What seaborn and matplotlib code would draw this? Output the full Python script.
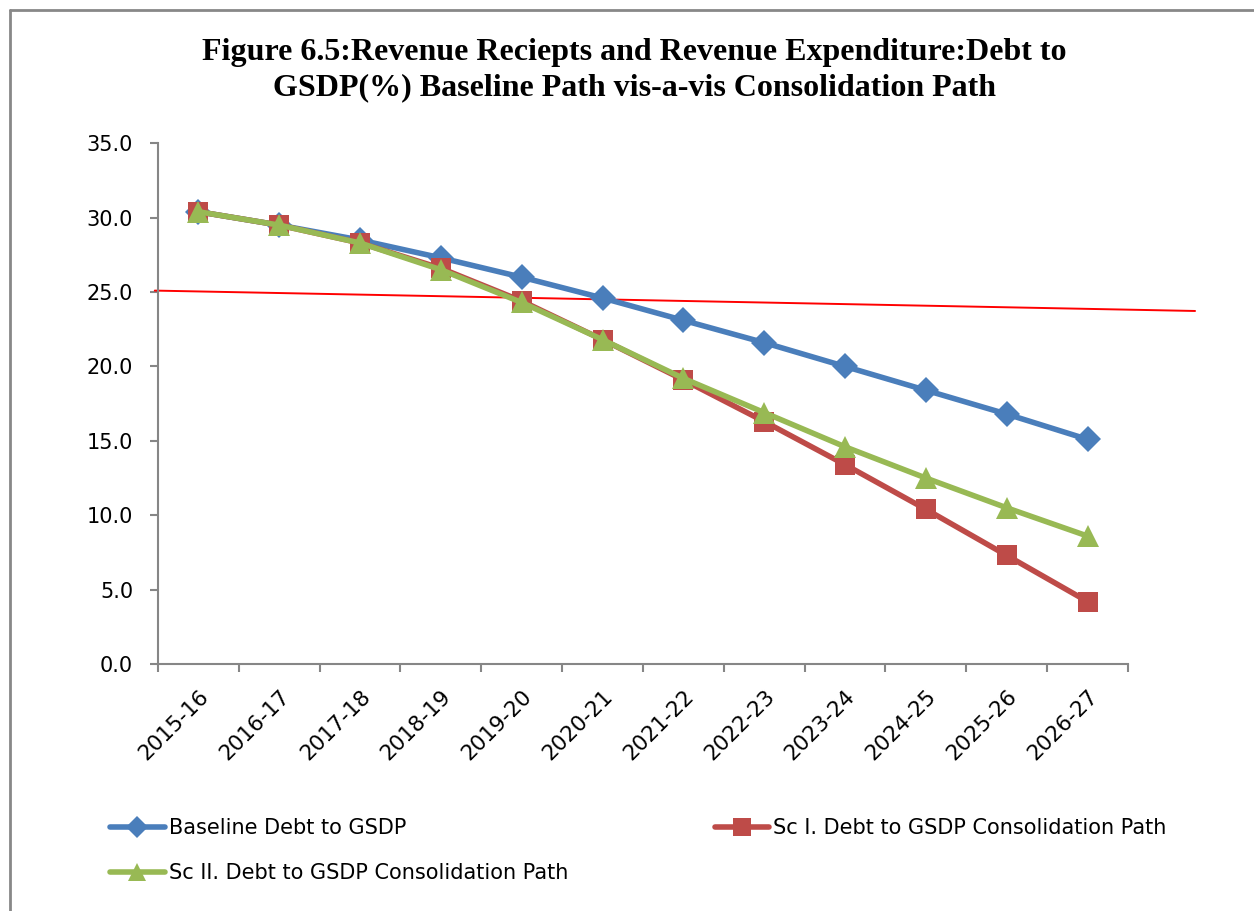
import matplotlib
matplotlib.use("Agg")
import matplotlib.pyplot as plt
from matplotlib.lines import Line2D
import matplotlib.transforms as mtransforms
import seaborn as sns
import pandas as pd

years = ["2015-16", "2016-17", "2017-18", "2018-19", "2019-20", "2020-21",
         "2021-22", "2022-23", "2023-24", "2024-25", "2025-26", "2026-27"]
baseline = [30.4, 29.5, 28.5, 27.3, 26.0, 24.6, 23.1, 21.6, 20.0, 18.4, 16.8, 15.1]
sc1 = [30.4, 29.5, 28.3, 26.6, 24.4, 21.8, 19.1, 16.3, 13.4, 10.4, 7.3, 4.2]
sc2 = [30.4, 29.5, 28.3, 26.5, 24.3, 21.8, 19.2, 16.9, 14.6, 12.5, 10.5, 8.6]
labels = ["Baseline Debt to GSDP",
          "Sc I. Debt to GSDP Consolidation Path",
          "Sc II. Debt to GSDP Consolidation Path"]
# hand-drawn red reference line (category-index x, value y)
ref_x = [-0.54, 12.33]
ref_y = [25.1, 23.73]

title = ("Figure 6.5:Revenue Reciepts and Revenue Expenditure:Debt to\n"
         "GSDP(%) Baseline Path vis-a-vis Consolidation Path")

sns.set_theme(style="white")
plt.rcParams["font.family"] = ["DejaVu Sans"]
plt.rcParams["text.color"] = "black"
plt.rcParams["xtick.color"] = "#868686"
plt.rcParams["ytick.color"] = "#868686"
plt.rcParams["xtick.labelcolor"] = "black"
plt.rcParams["ytick.labelcolor"] = "black"

fig = plt.figure(figsize=(12.54, 9.11), dpi=100)
ax = fig.add_axes([0.126, 0.2711, 0.7735, 0.5716])

colors = ["#4A7EBB", "#BE4B48", "#98B954"]
markers = ["D", "s", "^"]
msizes = [13.5, 14.5, 15.5]
series = [baseline, sc1, sc2]
handles = []
for vals, lab, c, m, ms in zip(series, labels, colors, markers, msizes):
    df = pd.DataFrame({"year": years, "value": vals})
    sns.lineplot(data=df, x="year", y="value", ax=ax, color=c, linewidth=4.0,
                 marker=m, markersize=ms, markeredgewidth=0, sort=False,
                 label=lab, legend=False)
    handles.append(Line2D([], [], color=c, linewidth=4.0, marker=m,
                          markersize=ms * 0.85, markeredgewidth=0))

ax.plot(ref_x, ref_y, color="#FF0000", linewidth=1.4, clip_on=False, zorder=1)

ax.set_xlim(-0.5, len(years) - 0.5)
ax.set_ylim(0, 35)
yt = [0, 5, 10, 15, 20, 25, 30, 35]
ax.set_yticks(yt)
ax.set_yticklabels([f"{v:.1f}" for v in yt], fontsize=15)
ax.set_xticks(range(len(years)))
ax.set_xticklabels(years, fontsize=15.5, rotation=45, ha="right", va="top",
                   rotation_mode="anchor")
shift = mtransforms.ScaledTranslation(-0.13, -0.03, fig.dpi_scale_trans)
for lbl in ax.get_xticklabels():
    lbl.set_transform(lbl.get_transform() + shift)
ax.set_xticks([i - 0.5 for i in range(len(years) + 1)], minor=True)
ax.tick_params(axis="x", which="major", length=0, pad=16)
ax.tick_params(axis="x", which="minor", length=6, width=1.5, color="#868686",
               direction="out", bottom=True)
ax.tick_params(axis="y", length=6, width=1.5, color="#868686", direction="out",
               left=True, pad=12)
ax.set_xlabel("")
ax.set_ylabel("")
for s in ["top", "right"]:
    ax.spines[s].set_visible(False)
for s in ["left", "bottom"]:
    ax.spines[s].set_color("#868686")
    ax.spines[s].set_linewidth(1.5)
ax.grid(False)

fig.text(0.5056, 0.958, title, ha="center", va="top", fontsize=23,
         fontweight="bold", family="Liberation Serif", linespacing=1.25,
         color="black")

order = [0, 2, 1]
fig.legend([handles[i] for i in order], [labels[i] for i in order],
           loc="upper left", bbox_to_anchor=(0.088, 0.1016), ncol=2,
           frameon=False, fontsize=15, handlelength=2.6, handletextpad=0.2,
           columnspacing=7.05, labelspacing=1.2, borderaxespad=0, borderpad=0)

# outer chart border (top and left visible)
fig.add_artist(Line2D([0.0080, 0.0080], [0.0, 0.9885], color="#888888",
                      linewidth=2.0, transform=fig.transFigure))
fig.add_artist(Line2D([0.0080, 1.0], [0.9885, 0.9885], color="#888888",
                      linewidth=2.0, transform=fig.transFigure))

fig.savefig("out.png", dpi=100)
